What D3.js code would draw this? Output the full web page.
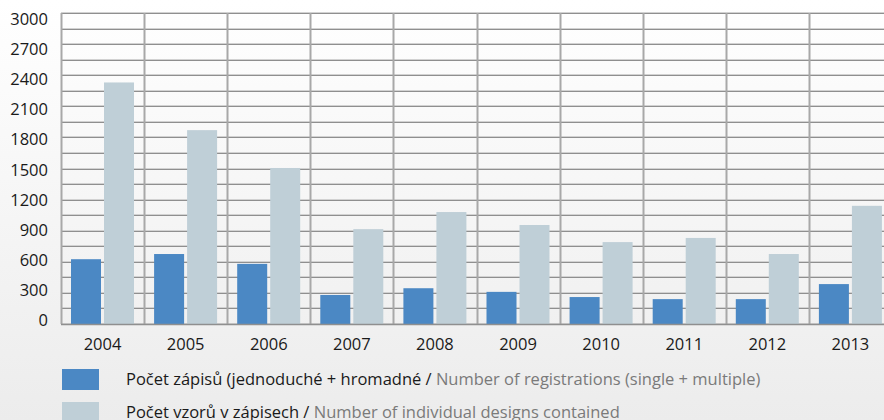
<!DOCTYPE html>
<html>
<head>
<meta charset="utf-8">
<script src="https://cdn.jsdelivr.net/npm/d3@7"></script>
<style>
  html, body { margin: 0; padding: 0; }
  body { width: 884px; height: 420px; overflow: hidden; }
</style>
</head>
<body>
<div id="chart"></div>
<script>
var years = ["2004","2005","2006","2007","2008","2009","2010","2011","2012","2013"];
var registrations = [625, 675, 580, 280, 345, 310, 260, 240, 240, 385];
var designs = [2330, 1870, 1505, 915, 1080, 955, 790, 830, 675, 1140];
var yTicks = [0, 300, 600, 900, 1200, 1500, 1800, 2100, 2400, 2700, 3000];
var legendCz = ["Počet zápisů (jednoduché + hromadné / ", "Počet vzorů v zápisech / "];
var legendEn = ["Number of registrations (single + multiple)", "Number of individual designs contained"];

var W = 884, H = 420;
var plotLeft = 61, plotTop = 13, plotBottom = 324;
var band = 83.1;

var svg = d3.select("#chart").append("svg").attr("width", W).attr("height", H)
  .style("font-family", "'Open Sans', 'Noto Sans', sans-serif");

var defs = svg.append("defs");
var grad = defs.append("linearGradient").attr("id", "bg").attr("x1", 0).attr("y1", 0).attr("x2", 0).attr("y2", 1);
grad.append("stop").attr("offset", "0%").attr("stop-color", "#ffffff");
grad.append("stop").attr("offset", "100%").attr("stop-color", "#ececec");
svg.append("rect").attr("width", W).attr("height", H).attr("fill", "url(#bg)");

var x = d3.scaleBand().domain(years).range([plotLeft, plotLeft + band * years.length]);
var y = d3.scaleLinear().domain([0, 3000]).range([plotBottom, plotTop]);
// popisky osy y jsou v originale trochu stlacene
var yLab = d3.scaleLinear().domain([0, 3000]).range([320, 19.5]);

// vodorovna mrizka po 150
var gridVals = d3.range(0, 3001, 150);
svg.selectAll(".hgrid2").data(gridVals).enter().append("line")
  .attr("x1", plotLeft).attr("x2", W)
  .attr("y1", function(d){ return Math.round(y(d)) - 0.5; })
  .attr("y2", function(d){ return Math.round(y(d)) - 0.5; })
  .attr("stroke", "#d2d2d2").attr("stroke-width", 1);
svg.selectAll(".hgrid").data(gridVals).enter().append("line")
  .attr("x1", plotLeft).attr("x2", W)
  .attr("y1", function(d){ return Math.round(y(d)) + 0.5; })
  .attr("y2", function(d){ return Math.round(y(d)) + 0.5; })
  .attr("stroke", "#8f8f8f").attr("stroke-width", 1);

// svisle cary na hranicich kategorii
svg.selectAll(".vgrid").data(years).enter().append("line")
  .attr("x1", function(d){ return Math.round(x(d)) + 0.5; })
  .attr("x2", function(d){ return Math.round(x(d)) + 0.5; })
  .attr("y1", plotTop).attr("y2", plotBottom)
  .attr("stroke", "#a8a8a8").attr("stroke-width", 2);

// sloupce
var barW = 30;
svg.selectAll(".reg").data(registrations).enter().append("rect")
  .attr("x", function(d, i){ return x(years[i]) + 10; })
  .attr("y", function(d){ return y(d); })
  .attr("width", barW)
  .attr("height", function(d){ return plotBottom - y(d); })
  .attr("fill", "#4b88c4");
svg.selectAll(".des").data(designs).enter().append("rect")
  .attr("x", function(d, i){ return x(years[i]) + 43; })
  .attr("y", function(d){ return y(d); })
  .attr("width", barW)
  .attr("height", function(d){ return plotBottom - y(d); })
  .attr("fill", "#bfcfd7");

// osa x
svg.append("line").attr("x1", plotLeft).attr("x2", W).attr("y1", plotBottom + 0.5).attr("y2", plotBottom + 0.5)
  .attr("stroke", "#8f8f8f").attr("stroke-width", 1.5);

// popisky osy y
svg.selectAll(".ylab").data(yTicks).enter().append("text")
  .attr("x", 48).attr("y", function(d){ return yLab(d); })
  .attr("dy", "0.35em").attr("text-anchor", "end")
  .attr("font-size", 16.5).attr("fill", "#1a1a1a")
  .text(function(d){ return d; });

// popisky osy x
svg.selectAll(".xlab").data(years).enter().append("text")
  .attr("x", function(d){ return x(d) + x.bandwidth() / 2; })
  .attr("y", 350).attr("text-anchor", "middle")
  .attr("font-size", 16.5).attr("fill", "#1a1a1a")
  .text(function(d){ return d; });

// legenda
var legColors = ["#4b88c4", "#bfcfd7"];
legColors.forEach(function(c, i){
  var ly = 369 + i * 33;
  svg.append("rect").attr("x", 62).attr("y", ly).attr("width", 37).attr("height", 21).attr("fill", c);
  var t = svg.append("text").attr("x", 126).attr("y", ly + 16).attr("font-size", 16.5);
  t.append("tspan").attr("fill", "#1a1a1a").text(legendCz[i]);
  t.append("tspan").attr("fill", "#7a7a7a").text(legendEn[i]);
});
</script>
</body>
</html>
